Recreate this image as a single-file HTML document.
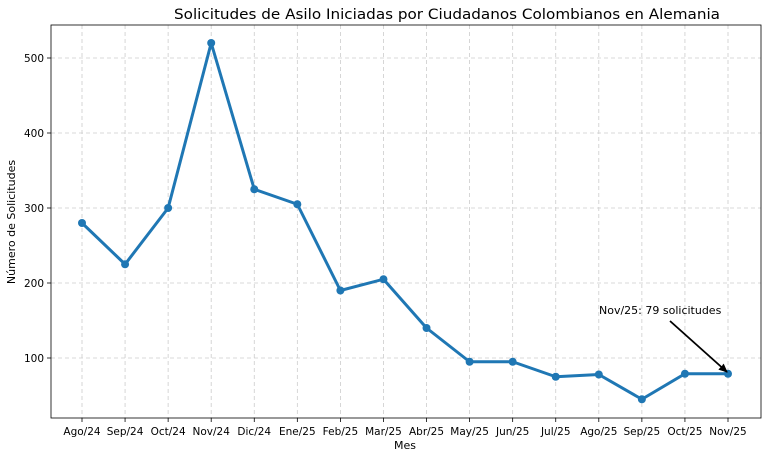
<!DOCTYPE html>
<html><head><meta charset="utf-8">
<style>
html,body{margin:0;padding:0;background:#fff;}
svg{display:block;font-family:"DejaVu Sans","Liberation Sans",sans-serif;}
</style></head>
<body>
<svg id="chart" width="768" height="459" viewBox="0 0 768 459" xmlns="http://www.w3.org/2000/svg">
<defs><marker id="ah" markerWidth="10" markerHeight="10" refX="8" refY="5" orient="auto" markerUnits="userSpaceOnUse"><path d="M0,1 L9,5 L0,9 z" fill="#000"/></marker></defs>
<text x="447" y="19" font-size="14.5" text-anchor="middle" textLength="546" lengthAdjust="spacingAndGlyphs">Solicitudes de Asilo Iniciadas por Ciudadanos Colombianos en Alemania</text>
<g id="grid"></g>
<g id="ticks"></g>
<rect x="51" y="25" width="710" height="393" fill="none" stroke="#000" stroke-width="0.8"/>
<g id="series"></g>
<text x="405" y="449" font-size="11" text-anchor="middle">Mes</text>
<text x="15" y="222" font-size="11" text-anchor="middle" transform="rotate(-90 15 222)">Número de Solicitudes</text>
<text x="599" y="314" font-size="11">Nov/25: 79 solicitudes</text>
<line x1="670" y1="321" x2="727" y2="372" stroke="#000" stroke-width="1.8" marker-end="url(#ah)"/>
</svg>
<script>
const categories = ["Ago/24","Sep/24","Oct/24","Nov/24","Dic/24","Ene/25","Feb/25","Mar/25","Abr/25","May/25","Jun/25","Jul/25","Ago/25","Sep/25","Oct/25","Nov/25"];
const values = [280,225,300,520,325,305,190,205,140,95,95,75,78,45,79,79];
const yTicks = [100,200,300,400,500];

const ns="http://www.w3.org/2000/svg";
function xs(i){return 82+i*(728-82)/(categories.length-1);}
function ys(v){return 358-(v-100)*0.75;}
function mk(tag,attrs,parent){const e=document.createElementNS(ns,tag);for(const k in attrs)e.setAttribute(k,attrs[k]);parent.appendChild(e);return e;}
const grid=document.getElementById('grid'),ticks=document.getElementById('ticks'),series=document.getElementById('series');
categories.forEach((c,i)=>{
  const x=xs(i);
  const g=mk('line',{x1:x,x2:x,y1:25,y2:418,stroke:'#cccccc','stroke-dasharray':'4,3','stroke-width':0.8},grid);
  
  
  const t=mk('line',{x1:x,x2:x,y1:418,y2:422,stroke:'#000','stroke-width':0.8},ticks);
  
  
  const l=mk('text',{x:x,y:435,'font-size':10.5,'text-anchor':'middle'},ticks);
  l.textContent=c;
  
  
});
yTicks.forEach(v=>{
  const y=ys(v);
  const g=mk('line',{x1:51,x2:761,y1:y,y2:y,stroke:'#cccccc','stroke-dasharray':'4,3','stroke-width':0.8},grid);
  
  
  const t=mk('line',{x1:47,x2:51,y1:y,y2:y,stroke:'#000','stroke-width':0.8},ticks);
  
  
  const l=mk('text',{x:44,y:y+4,'font-size':10.5,'text-anchor':'end'},ticks);
  l.textContent=v;
  
  
});
const pts=values.map((v,i)=>xs(i)+','+ys(v)).join(' ');
const pl=mk('polyline',{points:pts,fill:'none',stroke:'#1f77b4','stroke-width':3,'stroke-linejoin':'round'},series);


values.forEach((v,i)=>{
  const c=mk('circle',{cx:xs(i),cy:ys(v),r:4,fill:'#1f77b4'},series);
  
  
});
</script>
</body></html>
